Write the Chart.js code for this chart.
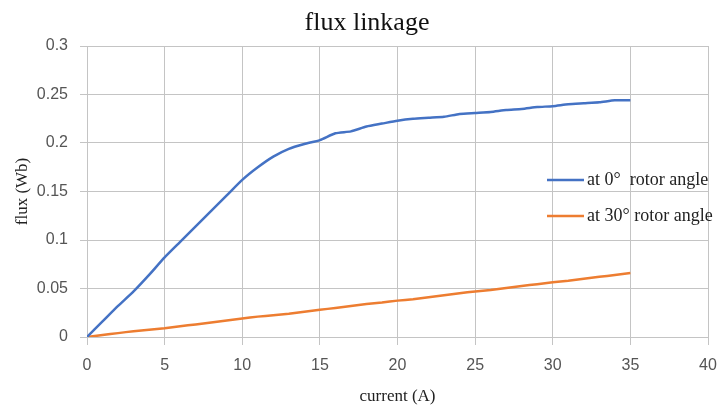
<!DOCTYPE html>
<html>
<head>
<meta charset="utf-8">
<script src="https://cdn.jsdelivr.net/npm/chart.js@4.4.1/dist/chart.umd.min.js"></script>
<style>
html,body{margin:0;padding:0;background:#fff;}
#wrap{width:719px;height:412px;position:relative;}
</style>
</head>
<body>
<div id="wrap"><canvas id="c" width="719" height="412"></canvas></div>
<script>
// ---- data ----
const current = [0,1,2,3,4,5,6,7,8,9,10,11,12,13,14,15,16,17,18,19,20,21,22,23,24,25,26,27,28,29,30,31,32,33,34,35];
const flux0deg = [0,0.016,0.032,0.047,0.064,0.082,0.098,0.114,0.130,0.146,0.162,0.175,0.186,0.194,0.199,0.203,0.210,0.212,0.217,0.220,0.223,0.225,0.226,0.227,0.230,0.231,0.232,0.234,0.235,0.237,0.238,0.240,0.241,0.242,0.244,0.244];
const flux30deg = [0,0.002,0.004,0.006,0.0075,0.009,0.011,0.013,0.015,0.017,0.019,0.021,0.0225,0.024,0.026,0.028,0.030,0.032,0.034,0.0355,0.0375,0.039,0.041,0.043,0.045,0.047,0.0485,0.0505,0.0525,0.0545,0.0565,0.058,0.060,0.062,0.064,0.066];
const seriesLabels = ["at 0°  rotor angle", "at 30° rotor angle"];
const seriesColors = ["#4472C4", "#ED7D31"];
const xTicks = [0,5,10,15,20,25,30,35,40];
const yTicks = [0,0.05,0.1,0.15,0.2,0.25,0.3];
const chartTitle = "flux linkage";
const xTitle = "current (A)";
const yTitle = "flux (Wb)";

const serif = "'Liberation Serif','Times New Roman',serif";
const sans = "'Liberation Sans',Arial,sans-serif";

const titleLegendPlugin = {
  id: 'titleLegend',
  afterDraw(chart) {
    const ctx = chart.ctx;
    ctx.save();
    // title
    ctx.fillStyle = '#111';
    ctx.font = "26px " + serif;
    ctx.textAlign = 'center';
    ctx.textBaseline = 'middle';
    ctx.fillText(chartTitle, 367, 23);
    // legend
    const ys = [180, 216];
    chart.data.datasets.forEach((ds, i) => {
      ctx.strokeStyle = ds.borderColor;
      ctx.lineWidth = 2.5;
      ctx.beginPath();
      ctx.moveTo(547, ys[i]);
      ctx.lineTo(584, ys[i]);
      ctx.stroke();
      ctx.fillStyle = '#222';
      ctx.font = "18px " + serif;
      ctx.textBaseline = 'middle';
      ctx.textAlign = 'left';
      ctx.fillText(ds.label, 587, ys[i]);
    });
    ctx.restore();
  }
};

new Chart(document.getElementById('c'), {
  type: 'line',
  data: {
    datasets: [
      { label: seriesLabels[0], data: current.map((x,i)=>({x, y: flux0deg[i]})), borderColor: seriesColors[0], backgroundColor: seriesColors[0], borderWidth: 2.5, pointRadius: 0, tension: 0.2 },
      { label: seriesLabels[1], data: current.map((x,i)=>({x, y: flux30deg[i]})), borderColor: seriesColors[1], backgroundColor: seriesColors[1], borderWidth: 2.5, pointRadius: 0, tension: 0.2 }
    ]
  },
  options: {
    responsive: false,
    animation: false,
    layout: { padding: { left: 0, right: 11, top: 46, bottom: 0 } },
    plugins: {
      legend: { display: false },
      tooltip: { enabled: false },
      title: { display: false }
    },
    scales: {
      x: {
        type: 'linear', min: 0, max: 40,
        afterBuildTicks: s => { s.ticks = xTicks.map(v => ({ value: v })); },
        afterFit: s => { s.height = 75; s.paddingLeft = 0; s.paddingRight = 0; },
        grid: { color: '#c4c4c4', lineWidth: 1, tickLength: 8, drawTicks: true },
        border: { color: '#c4c4c4' },
        ticks: { color: '#555', font: { family: sans, size: 16 }, padding: 11, maxRotation: 0 },
        title: { display: true, text: xTitle, color: '#222', font: { family: serif, size: 17 }, padding: { top: 0, bottom: 5 } }
      },
      y: {
        type: 'linear', min: 0, max: 0.3,
        afterBuildTicks: s => { s.ticks = yTicks.map(v => ({ value: v })); },
        afterFit: s => { s.width = 87; s.paddingTop = 0; s.paddingBottom = 0; },
        grid: { color: '#c4c4c4', lineWidth: 1, drawTicks: true, tickLength: 7 },
        border: { color: '#c4c4c4' },
        ticks: { color: '#555', font: { family: sans, size: 16 }, padding: 12, callback: v => String(+v.toFixed(2)) },
        title: { display: true, text: yTitle, color: '#222', font: { family: serif, size: 17 }, padding: { top: 12, bottom: 0 } }
      }
    }
  },
  plugins: [titleLegendPlugin]
});
</script>
</body>
</html>
